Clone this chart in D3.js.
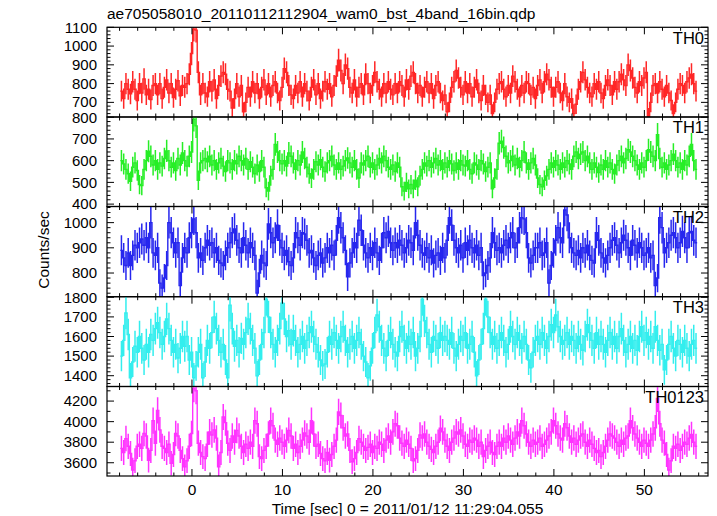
<!DOCTYPE html>
<html><head><meta charset="utf-8">
<script src="https://cdn.jsdelivr.net/npm/d3@7"></script>
<style>
body{margin:0;background:#fff}
text{font-family:"Liberation Sans",Arial,Helvetica,sans-serif;fill:#000}
</style>
</head><body>
<svg id="chart" width="717" height="516"></svg>
<script>
const titleText = "ae705058010_20110112112904_wam0_bst_4band_16bin.qdp";
const xLabelText = "Time [sec] 0 = 2011/01/12 11:29:04.055";
const yLabelText = "Counts/sec";
const binStart = -7.92;
const binWidth = 0.25;
const xTickLabels = [0, 10, 20, 30, 40, 50];
const xDomain = [-9.39, 57.03];

const th0 = [
760,720,800,770, 745,810,770,710, 800,750,825,740, 770,715,790,800,
740,800,720,780, 820,750,800,725, 770,815,735,790, 780,800,850,960,
1090,1085,860,740, 800,750,730,810, 760,820,720,790, 840,860,850,770,
760,670,720,800, 730,790,650,700, 780,730,810,750, 800,720,780,820,
740,800,730,790, 810,750,710,780, 880,860,790,740, 720,790,750,810,
730,800,760,710, 780,820,740,800, 720,760,810,770, 800,730,790,840,
925,870,800,900, 880,780,750,820, 730,780,800,740, 850,800,750,790,
860,810,770,730, 800,750,810,770, 740,800,750,810, 790,730,820,770,
840,860,800,750, 790,730,780,810, 750,800,720,790, 810,750,710,740,
650,700,780,810, 870,830,780,740, 810,750,800,730, 780,820,750,710,
790,740,700,740, 640,700,770,800, 810,770,730,790, 750,840,810,770,
730,790,750,810, 800,740,780,720, 790,820,750,810, 850,820,780,730,
780,810,750,710, 800,730,700,720, 640,690,770,810, 860,820,780,750,
730,800,770,810, 750,720,790,820, 790,740,810,770, 810,850,820,790,
900,870,830,780, 750,810,790,830, 860,620,700,790, 800,750,810,770,
730,790,750,710, 640,700,770,800, 790,750,810,830, 850,800,760
];
const th1 = [
600,585,560,540, 505,570,590,555, 490,485,560,600, 643,620,580,600,
560,590,575,610, 645,600,570,590, 555,610,580,635, 600,575,620,640,
790,760,510,590, 600,610,595,620, 580,600,560,590, 610,575,550,600,
590,560,600,585, 620,600,580,610, 560,595,570,540, 580,550,600,570,
475,460,530,560, 675,640,600,585, 600,575,635,620, 590,560,600,580,
640,610,570,540, 520,560,595,580, 605,570,550,590, 600,620,580,560,
590,560,575,600, 612,590,570,600, 560,520,590,580, 600,620,570,590,
560,580,610,590, 620,600,570,560, 580,550,590,570, 480,460,500,470,
490,470,510,480, 530,560,590,575, 600,570,590,610, 580,600,560,590,
570,600,585,555, 590,560,600,580, 575,600,560,540, 590,580,560,600,
585,550,570,590, 470,520,560,680, 690,660,620,590, 600,620,580,610,
570,600,640,590, 560,590,610,580, 520,490,480,510, 530,560,590,570,
600,580,560,590, 570,600,585,560, 620,640,610,630, 640,600,620,590,
560,590,570,545, 580,560,600,570, 590,560,540,580, 600,620,590,610,
650,640,620,600, 580,560,590,570, 600,650,640,620, 600,720,610,570,
590,560,580,600, 630,600,570,590, 560,600,580,620, 675,600,560
];
const th2 = [
890,860,830,880, 830,870,910,900, 920,935,910,940, 900,1000,880,870,
900,760,740,780, 830,1000,960,920, 880,920,750,860, 900,880,940,960,
1015,960,860,880, 850,900,930,910, 920,880,900,850, 840,830,870,900,
920,960,975,930, 900,880,940,910, 880,920,900,870, 720,800,870,840,
830,995,960,920, 940,990,930,900, 870,890,845,830, 860,960,940,910,
960,955,930,880, 890,860,830,870, 880,840,860,900, 880,910,870,930,
1020,980,940,890, 785,840,880,920, 900,1010,970,910, 880,860,900,870,
920,880,850,900, 960,940,965,920, 890,920,900,930, 910,880,900,930,
920,890,1000,950, 910,880,870,900, 860,890,840,870, 880,850,900,860,
930,1020,990,930, 900,880,910,860, 920,890,930,900, 880,910,870,900,
790,800,830,860, 960,920,890,900, 880,910,930,900, 940,960,900,920,
980,1020,1015,960, 860,840,870,900, 900,920,870,880, 920,760,830,880,
930,980,940,920, 1050,1030,940,900, 880,870,890,860, 900,880,910,870,
850,840,960,930, 880,860,840,870, 900,930,940,910, 880,920,950,930,
900,870,930,910, 880,920,900,870, 880,900,860,870, 750,780,1020,980,
880,900,920,950, 960,940,900,920, 965,940,900,960, 965,930,920
];
const th3 = [
1500,1580,1720,1610, 1390,1470,1550,1520, 1600,1540,1480,1560, 1520,1610,1580,1640,
1670,1620,1560,1600, 1690,1640,1580,1520, 1560,1490,1540,1600, 1550,1600,1480,1520,
1390,1450,1520,1560, 1390,1470,1580,1540, 1620,1700,1640,1580, 1520,1560,1480,1390,
1760,1640,1550,1580, 1520,1590,1560,1620, 1690,1640,1580,1540, 1400,1480,1560,1620,
1790,1700,1620,1560, 1520,1580,1640,1770, 1690,1600,1630,1560, 1630,1580,1520,1560,
1600,1540,1580,1620, 1650,1600,1560,1520, 1480,1450,1460,1520, 1600,1560,1620,1580,
1540,1600,1650,1580, 1520,1560,1600,1540, 1580,1620,1560,1500, 1470,1390,1450,1540,
1620,1710,1650,1580, 1540,1500,1580,1620, 1560,1520,1500,1600, 1650,1580,1540,1600,
1560,1620,1500,1540, 1600,1790,1680,1620, 1560,1520,1600,1580, 1540,1620,1580,1600,
1580,1560,1620,1540, 1500,1560,1600,1580, 1620,1540,1560,1600, 1520,1400,1480,1560,
1640,1790,1700,1620, 1560,1600,1540,1580, 1620,1580,1520,1560, 1650,1600,1560,1620,
1580,1540,1600,1560, 1480,1440,1520,1580, 1600,1560,1620,1580, 1540,1600,1660,1620,
1710,1650,1600,1560, 1580,1620,1560,1600, 1580,1540,1600,1560, 1530,1600,1660,1620,
1580,1540,1620,1560, 1600,1560,1520,1580, 1620,1560,1600,1540, 1600,1640,1580,1520,
1560,1600,1540,1580, 1530,1600,1650,1580, 1620,1560,1600,1540, 1650,1580,1530,1560,
1430,1480,1560,1600, 1540,1500,1580,1560, 1520,1580,1540,1500, 1560,1580,1540
];
const th0123 = [
3740,3700,3835,3760, 3690,3530,3620,3760, 3780,3740,3885,3860, 3625,3720,4010,3790,
4110,3920,3760,3740, 3700,3780,3595,3680, 3885,3860,3720,3640, 3560,3620,3760,3885,
4320,4300,3790,3700, 3660,3640,3780,3900, 3870,3920,3840,3560, 3700,4045,3990,3790,
3720,3860,3800,3915, 3860,3760,3700,3780, 3740,3800,3760,4010, 3980,3660,3640,3720,
3760,3880,4010,3960, 3820,3780,3840,3800, 3760,3820,3915,3860, 3740,3780,3700,3760,
3820,3890,3860,3800, 4010,3880,3760,3780, 3690,3640,3620,3700, 3625,3680,3760,3820,
4095,4060,3940,3860, 3880,3720,3610,3640, 3700,3835,3800,3760, 3720,3750,3780,3700,
3760,3740,3800,3780, 3720,3820,3860,3800, 3900,3980,3960,3840, 3790,3760,3820,3780,
3740,3620,3640,3720, 3870,3840,3880,3800, 3760,3730,3700,3760, 3800,3935,3900,3820,
3760,3720,3800,3840, 3900,3880,3920,3860, 3780,3760,3820,3800, 3840,3820,3760,3800,
3660,3720,3760,3800, 3700,3680,3760,3800, 3760,3840,3800,3860, 3820,3780,3840,3900,
3860,4010,3960,3880, 3800,3760,3820,3780, 3800,3840,3760,3780, 3820,3860,3900,4010,
3960,3880,3840,3820, 3980,3940,3860,3800, 3840,3780,3820,3860, 3880,3800,3760,3820,
3780,3740,3700,3720, 3660,3700,3760,3820, 3880,3860,3840,3800, 3760,3820,3780,3840,
3860,4010,3940,3880, 3840,3800,3760,3820, 3790,3760,3820,3880, 3940,4225,3980,3820,
3790,3680,3530,3620, 3760,3740,3780,3720, 3760,3800,3780,3840, 3875,3800,3760
];

const panelNames = ["TH0", "TH1", "TH2", "TH3", "TH0123"];
const panelSeries = [th0, th1, th2, th3, th0123];
const yDomains = [[622, 1100], [389, 801], [706, 1064], [1345, 1803], [3471, 4342]];
const yTickLabels = [
  [700, 800, 900, 1000, 1100],
  [400, 500, 600, 700, 800],
  [800, 900, 1000],
  [1400, 1500, 1600, 1700, 1800],
  [3600, 3800, 4000, 4200]
];
const yMinorStep = [20, 20, 20, 20, 100];
const panelColors = ["#ff2626", "#26ee26", "#2626ee", "#33eeee", "#ff33ff"];

// layout
const left = 107, right = 708;
const edges = [27.3, 117, 206.5, 296.7, 386.5, 476];

const svg = d3.select("#chart");
const x = d3.scaleLinear().domain(xDomain).range([left, right]);

const xMajor = d3.range(-10, 60, 10).filter(v => v >= xDomain[0] && v <= xDomain[1]);
const xMinor = d3.range(-10, 60, 2).filter(v => v >= xDomain[0] && v <= xDomain[1] && v % 10 !== 0);

panelNames.forEach((name, p) => {
  const top = edges[p], bot = edges[p + 1];
  const vals = panelSeries[p];
  const y = d3.scaleLinear().domain(yDomains[p]).range([bot, top]);
  const g = svg.append("g");
  const clipId = "clip" + p;
  svg.append("clipPath").attr("id", clipId).append("rect")
    .attr("x", left).attr("y", top).attr("width", right - left).attr("height", bot - top);
  const dg = g.append("g").attr("clip-path", `url(#${clipId})`);
  const col = panelColors[p];

  // error bars (Poisson, from counts per bin)
  dg.selectAll("line.err").data(vals).join("line")
    .attr("class", "err")
    .attr("x1", (v, i) => x(binStart + binWidth * (i + 0.5)))
    .attr("x2", (v, i) => x(binStart + binWidth * (i + 0.5)))
    .attr("y1", v => y(v - Math.sqrt(v * binWidth) / binWidth))
    .attr("y2", v => y(v + Math.sqrt(v * binWidth) / binWidth))
    .attr("stroke", col).attr("stroke-width", 1.5);

  // histogram step line
  const pts = [];
  vals.forEach((v, i) => {
    pts.push([binStart + binWidth * i, v]);
    pts.push([binStart + binWidth * (i + 1), v]);
  });
  dg.append("path")
    .attr("d", d3.line().x(d => x(d[0])).y(d => y(d[1]))(pts))
    .attr("fill", "none").attr("stroke", col).attr("stroke-width", 1.4);

  // frame
  g.append("rect").attr("x", left).attr("y", top).attr("width", right - left).attr("height", bot - top)
    .attr("fill", "none").attr("stroke", "#000").attr("stroke-width", 1.2);

  const tg = g.append("g").attr("stroke", "#000").attr("stroke-width", 1);
  xMajor.forEach(t => {
    tg.append("line").attr("x1", x(t)).attr("x2", x(t)).attr("y1", bot).attr("y2", bot - 7);
    tg.append("line").attr("x1", x(t)).attr("x2", x(t)).attr("y1", top).attr("y2", top + 7);
  });
  xMinor.forEach(t => {
    tg.append("line").attr("x1", x(t)).attr("x2", x(t)).attr("y1", bot).attr("y2", bot - 3.5);
    tg.append("line").attr("x1", x(t)).attr("x2", x(t)).attr("y1", top).attr("y2", top + 3.5);
  });
  const majors = yTickLabels[p];
  const st = yMinorStep[p];
  const minors = d3.range(Math.ceil(yDomains[p][0] / st) * st, yDomains[p][1], st)
    .filter(v => !majors.includes(v));
  majors.forEach(v => {
    tg.append("line").attr("x1", left).attr("x2", left + 7).attr("y1", y(v)).attr("y2", y(v));
    tg.append("line").attr("x1", right).attr("x2", right - 7).attr("y1", y(v)).attr("y2", y(v));
  });
  minors.forEach(v => {
    tg.append("line").attr("x1", left).attr("x2", left + 3.5).attr("y1", y(v)).attr("y2", y(v));
    tg.append("line").attr("x1", right).attr("x2", right - 3.5).attr("y1", y(v)).attr("y2", y(v));
  });
  g.selectAll("text.yt").data(majors).join("text")
    .attr("class", "yt")
    .attr("x", 97).attr("y", v => y(v) - (p === 0 && v === 700 ? 1 : 0) + (p === 1 && v === 800 ? 0.5 : 0))
    .attr("dy", "0.35em")
    .attr("text-anchor", "end").attr("font-size", 15)
    .text(v => v);
  g.append("text").attr("x", 704).attr("y", top + 16.2)
    .attr("text-anchor", "end").attr("font-size", 16.5).text(name);
});

svg.selectAll("text.xt").data(xTickLabels).join("text")
  .attr("class", "xt")
  .attr("x", d => x(d)).attr("y", 494.5)
  .attr("text-anchor", "middle").attr("font-size", 15.5)
  .text(d => d);

svg.append("text").attr("x", (left + right) / 2).attr("y", 513.5)
  .attr("text-anchor", "middle").attr("font-size", 15.5).text(xLabelText);

svg.append("text").attr("transform", "translate(49,250) rotate(-90)")
  .attr("text-anchor", "middle").attr("font-size", 15.5).text(yLabelText);

svg.append("text").attr("x", 107).attr("y", 19).attr("font-size", 15.5).text(titleText);
</script>
</body></html>
